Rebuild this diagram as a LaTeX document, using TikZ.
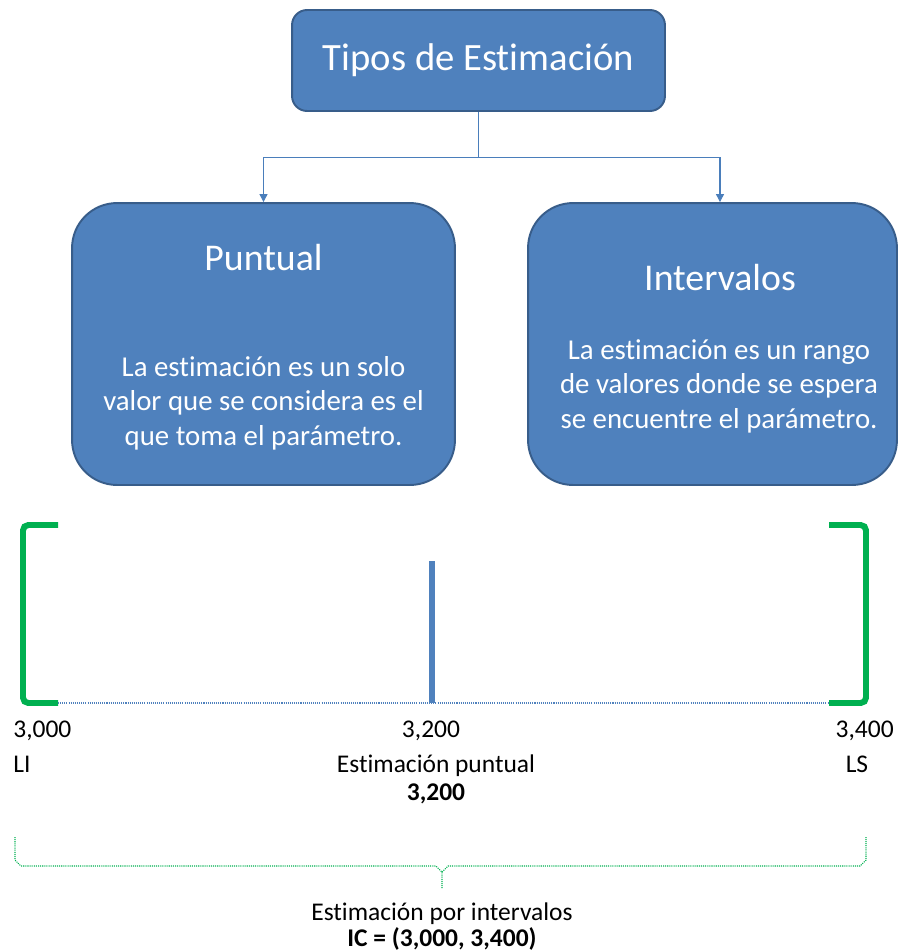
\documentclass[tikz,border=0pt]{standalone}
\usepackage{fontspec}
\setmainfont[Ligatures={NoCommon}]{Carlito}
\usetikzlibrary{arrows.meta,positioning,calc}

\definecolor{boxblue}{HTML}{4F81BD}
\definecolor{boxedge}{HTML}{385D8A}
\definecolor{linkblue}{HTML}{4A7EBB}
\definecolor{limitgreen}{HTML}{00B050}

\tikzset{
  topbox/.style={draw=boxedge, fill=boxblue, line width=1.1pt, rounded corners=0.3cm,
    minimum width=7.46cm, minimum height=2.02cm, text=white, font=\fontsize{22}{27}\selectfont},
  kindbox/.style={draw=boxedge, fill=boxblue, line width=1.1pt, rounded corners=0.9cm,
    minimum height=5.64cm},
  head/.style={text=white, font=\fontsize{21.5}{26}\selectfont},
  body/.style={text=white, align=center, font=\fontsize{16.4}{19.6}\selectfont},
  conn/.style={linkblue, line width=0.6pt, -{Triangle[length=4.5pt,width=4.5pt]}},
  numlabel/.style={anchor=base, inner sep=0pt, font=\fontsize{14.5}{17}\selectfont},
  boldlabel/.style={numlabel, font=\fontsize{14.5}{17}\selectfont\bfseries},
  bracket/.style={limitgreen, line width=3.4pt, rounded corners=3pt},
  dots/.style={line width=0.6pt, dash pattern=on 0.6pt off 0.6pt},
}

\begin{document}
\begin{tikzpicture}[x=0.02cm, y=-0.02cm]
    \useasboundingbox (0,0) rectangle (898,951);
    % Boxes
    \node[topbox] (tipos) at (478.5,60.5) {Tipos de Estimación};
    \node[kindbox, minimum width=7.66cm] (puntual) at (263.5,344) {};
    \node[kindbox, minimum width=7.38cm] (intervalos) at (712.5,344) {};
    \node[head] (puntualT) at (263.5,258) {Puntual};
    \node[head] (intervalosT) at (720,278) {Intervalos};
    \node[body] (puntualD) at (263.5,403) {La estimación es un solo\\valor que se considera es el\\que toma el parámetro.};
    \node[body] (intervalosD) at (719,386) {La estimación es un rango\\de valores donde se espera\\se encuentre el parámetro.};
    % Links
    \draw[linkblue, line width=0.6pt] (tipos.south) -- ++(0,46) coordinate (split);
    \draw[conn] (split) -| (puntual.north);
    \draw[conn] (split) -| (intervalosT |- intervalos.north);
    % Interval
    \coordinate (li) at (58,703);
    \coordinate (ls) at (829,703);
    \draw[bracket] (58,525) -- (23,525) -- (23,703) -- (li);
    \draw[bracket] (829,525) -- (866,525) -- (866,703) -- (ls);
    \draw[boxblue, dots] (li) -- (ls);
    \draw[boxblue, line width=3.4pt] (432,561) -- (432,703);
    % Labels
    \node[numlabel, anchor=base west] (lival) at (13,737) {3,000};
    \node[numlabel] (midval) at (431,737) {3,200};
    \node[numlabel, anchor=base east] (lsval) at (894,737) {3,400};
    \node[numlabel, anchor=base west] (linf) at (13,772) {LI};
    \node[numlabel] (punt) at (436,772) {Estimación puntual};
    \node[boldlabel] (puntnum) at (436,800) {3,200};
    \node[numlabel] (lsup) at (857,772) {LS};
    % Brace
    \draw[limitgreen, dots] (15,837) -- (15,860) -- (21,866) -- (436,866) -- (442,872) coordinate (tip)
        -- (442,888);
    \draw[limitgreen, dots] (tip) -- (448,866) -- (860,866) -- (866,860) -- (866,837);
    \node[numlabel] (porint) at (442,920) {Estimación por intervalos};
    \node[boldlabel] (ic) at (442,946) {IC = (3,000, 3,400)};
\end{tikzpicture}
\end{document}
